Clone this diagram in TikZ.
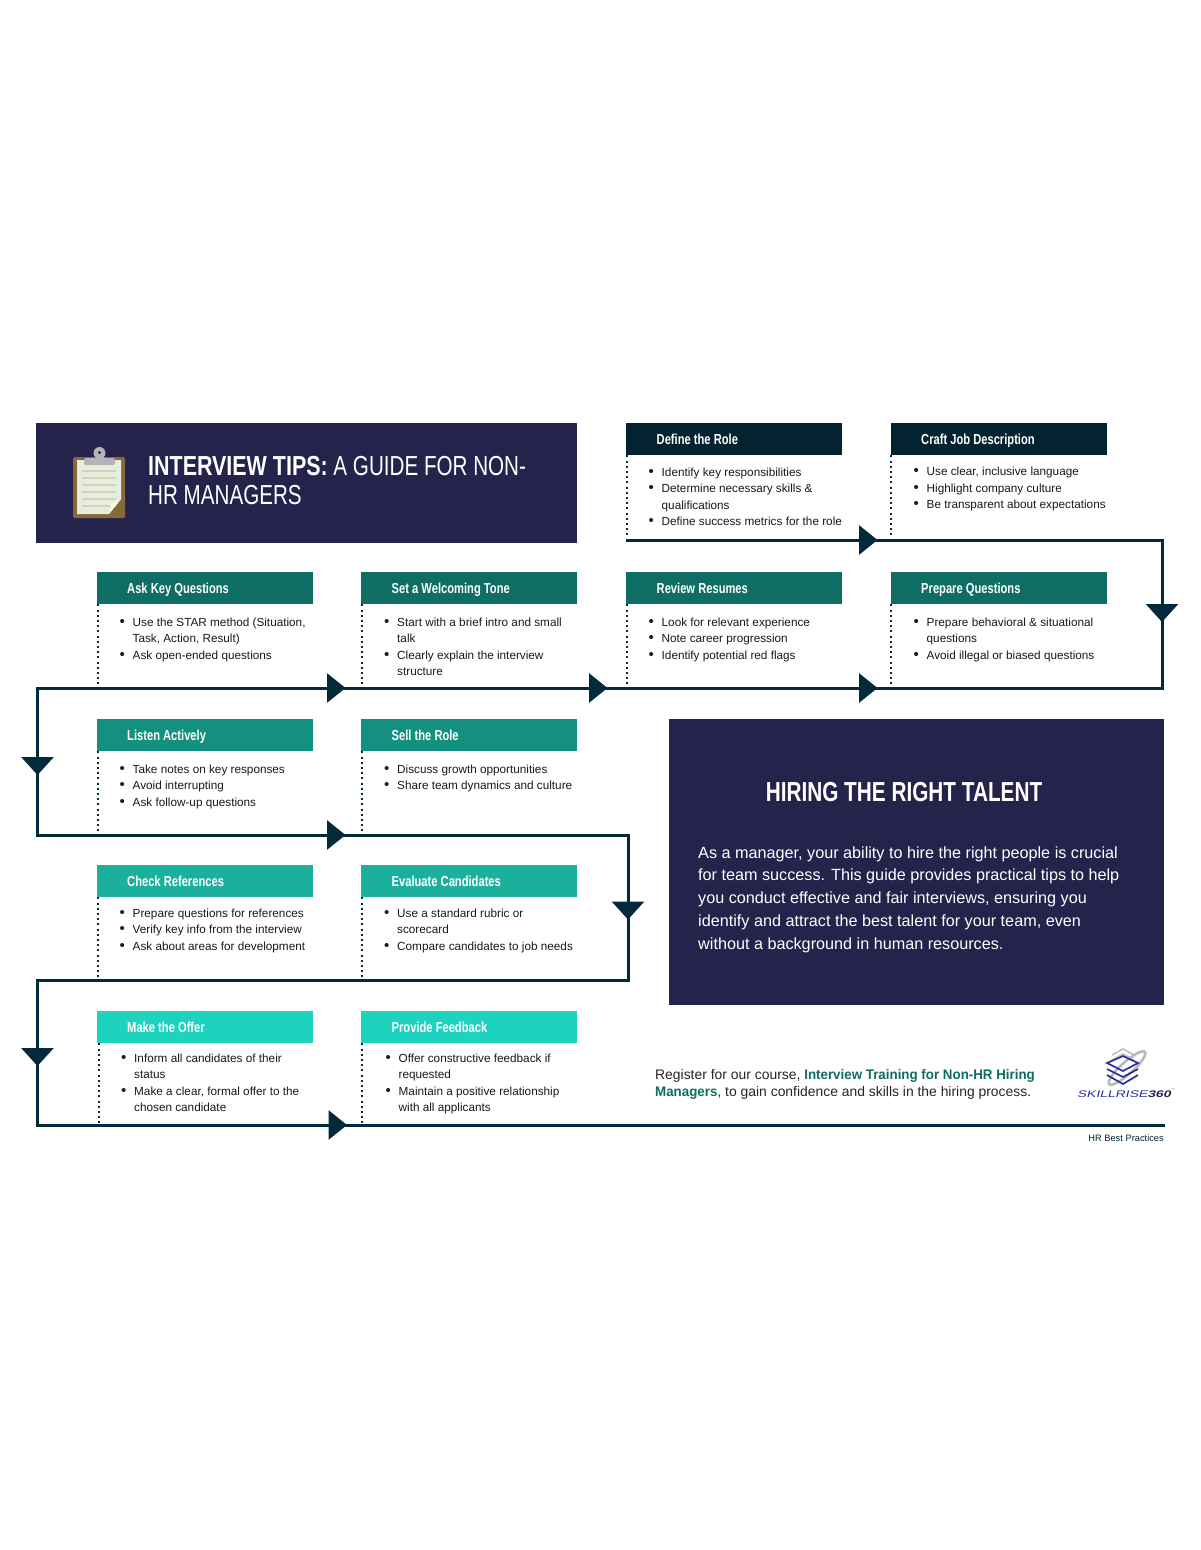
\documentclass[tikz,border=0pt]{standalone}
\usepackage{fontspec}
\usetikzlibrary{arrows.meta,calc}
\setmainfont{Liberation Sans}
\newfontfamily\condf[FakeStretch=0.77]{Liberation Sans}
\newfontfamily\condt[FakeStretch=0.75,BoldFeatures={FakeStretch=0.78}]{Liberation Sans}
\newfontfamily\condh[FakeStretch=0.755]{Liberation Sans}
\newfontfamily\regb[FakeStretch=0.96]{Liberation Sans}
\newfontfamily\logof[FakeStretch=1.45,FakeSlant=0.25]{Liberation Sans}
\definecolor{navy}{HTML}{25224B}
\definecolor{ink}{HTML}{022A3A}
\definecolor{hA}{HTML}{02232F}
\definecolor{hB}{HTML}{0F6E64}
\definecolor{hC}{HTML}{149080}
\definecolor{hD}{HTML}{1BB09C}
\definecolor{hE}{HTML}{1DD3BD}
\definecolor{regteal}{HTML}{0F6E5E}
\definecolor{logob}{HTML}{2A2F9C}
\tikzset{
  x=1pt,y=-1pt,
  hbox/.style={minimum width=216pt,minimum height=32pt,inner sep=0pt,anchor=north west},
  htext/.style={font=\condf\bfseries\fontsize{14.5}{16}\selectfont,text=white,anchor=base west,inner sep=0pt},
  body/.style={font=\fontsize{11.75}{16.45}\selectfont,text=black!90,align=left,anchor=north west,inner sep=0pt},
  panel/.style={fill=navy,draw=none,inner sep=0pt,anchor=north west},
  flow/.style={draw=ink,line width=3pt,line cap=butt,line join=miter},
  flowarrow/.style={flow,-{Triangle[length=18.5pt,width=29pt,fill=ink]}},
  flowdown/.style={flow,-{Triangle[length=18pt,width=32pt,fill=ink]}},
  dots/.style={draw=ink,line width=2pt,dash pattern=on 2pt off 3.2pt},
}
\newcommand{\bl}[1]{\strut\makebox[13pt][l]{\fontsize{15}{16}\selectfont •}#1}
\newcommand{\cl}[1]{\strut\hspace*{13pt}#1}
% name, x, y, colour, title
\newcommand{\hdr}[5]{\node[hbox,fill=#4] (#1) at (#2,#3) {}; \node[htext] (#1t) at (#2+30.5,#3+21) {#5};}
\begin{document}
\begin{tikzpicture}
\useasboundingbox (0,0) rectangle (1200,1550);
\fill[white] (0,0) rectangle (1200,1550);

% panels
\node[panel,minimum width=541pt,minimum height=120pt] (titlebox) at (36,423) {};
\node[panel,minimum width=495pt,minimum height=286pt] (hirebox) at (669,719) {};

% clipboard
\fill[rounded corners=1.5pt,fill={rgb,255:red,133;green,105;blue,58}] (73,457) rectangle (125,518);
\fill[fill={rgb,255:red,232;green,236;blue,220}] (77,460) -- (121,460) -- (121,499) -- (109,514) -- (77,514) -- cycle;
\foreach \yy in {471,478,485,492,499,506} \draw[line width=1.1pt,draw={rgb,255:red,208;green,211;blue,190}] (82,\yy) -- (116,\yy);
\fill[fill={rgb,255:red,248;green,246;blue,228}] (121,499) .. controls (116,503) and (112,503) .. (110,503) .. controls (111,507) and (110,511) .. (109,514) -- cycle;
\fill[fill={rgb,255:red,180;green,180;blue,183}] (99.5,453) circle (6pt);
\fill[navy] (99.5,452.5) circle (1.7pt);
\fill[rounded corners=1.5pt,fill={rgb,255:red,180;green,180;blue,183}] (84,458) rectangle (115,465);

% title
\node[anchor=base west,inner sep=0pt,text=white,font=\condt\fontsize{27.5}{29}\selectfont] (t1) at (148,475) {\textbf{INTERVIEW TIPS:} A GUIDE FOR NON-};
\node[anchor=base west,inner sep=0pt,text=white,font=\condt\fontsize{27.5}{29}\selectfont] (t2) at (148,504) {HR MANAGERS};

% hiring panel
\node[anchor=center,inner sep=0pt,text=white,font=\condh\bfseries\fontsize{27.5}{29}\selectfont] (hh) at (904,792) {HIRING THE RIGHT TALENT};
\node[anchor=north west,inner sep=0pt,text=white,align=left,font=\fontsize{16.2}{22.8}\selectfont] (hp) at (698,842) {\strut As a manager, your ability to hire the right people is crucial\\for team success. This guide provides practical tips to help\\you conduct effective and fair interviews, ensuring you\\identify and attract the best talent for your team, even\\without a background in human resources.};

% headers
\hdr{a}{626}{423}{hA}{Define the Role}
\hdr{b}{890.5}{423}{hA}{Craft Job Description}
\hdr{c}{96.5}{572}{hB}{Ask Key Questions}
\hdr{d}{361}{572}{hB}{Set a Welcoming Tone}
\hdr{e}{626}{572}{hB}{Review Resumes}
\hdr{f}{890.5}{572}{hB}{Prepare Questions}
\hdr{g}{96.5}{719}{hC}{Listen Actively}
\hdr{h}{361}{719}{hC}{Sell the Role}
\hdr{i}{96.5}{865}{hD}{Check References}
\hdr{j}{361}{865}{hD}{Evaluate Candidates}
\hdr{k}{96.5}{1011}{hE}{Make the Offer}
\hdr{l}{361}{1011}{hE}{Provide Feedback}

% bodies
\node[body] (ab) at (648.5,464.5) {\bl{Identify key responsibilities}\\\bl{Determine necessary skills \&}\\\cl{qualifications}\\\bl{Define success metrics for the role}};
\node[body] (bb) at (913.5,464) {\bl{Use clear, inclusive language}\\\bl{Highlight company culture}\\\bl{Be transparent about expectations}};
\node[body] (cb) at (119.5,614.5) {\bl{Use the STAR method (Situation,}\\\cl{Task, Action, Result)}\\\bl{Ask open-ended questions}};
\node[body] (db) at (384,614.5) {\bl{Start with a brief intro and small}\\\cl{talk}\\\bl{Clearly explain the interview}\\\cl{structure}};
\node[body] (eb) at (648.5,614.5) {\bl{Look for relevant experience}\\\bl{Note career progression}\\\bl{Identify potential red flags}};
\node[body] (fb) at (913.5,614.5) {\bl{Prepare behavioral \& situational}\\\cl{questions}\\\bl{Avoid illegal or biased questions}};
\node[body] (gb) at (119.5,761.5) {\bl{Take notes on key responses}\\\bl{Avoid interrupting}\\\bl{Ask follow-up questions}};
\node[body] (hb) at (384,761.5) {\bl{Discuss growth opportunities}\\\bl{Share team dynamics and culture}};
\node[body] (ib) at (119.5,905.5) {\bl{Prepare questions for references}\\\bl{Verify key info from the interview}\\\bl{Ask about areas for development}};
\node[body] (jb) at (384,905.5) {\bl{Use a standard rubric or}\\\cl{scorecard}\\\bl{Compare candidates to job needs}};
\node[body] (kb) at (121,1050.5) {\bl{Inform all candidates of their}\\\cl{status}\\\bl{Make a clear, formal offer to the}\\\cl{chosen candidate}};
\node[body] (lb) at (385.5,1050.5) {\bl{Offer constructive feedback if}\\\cl{requested}\\\bl{Maintain a positive relationship}\\\cl{with all applicants}};

% dotted rails
\foreach \n/\xx/\yy in {a/627/537,b/891/536,c/97.5/686,d/362/686,e/627/686,f/891/686,g/97.5/832,h/362/832,i/97.5/977,j/362/977,k/99/1123,l/362/1123}{
  \coordinate (tmp) at (\xx,\yy);
  \draw[dots] (tmp|-\n.south) -- (tmp);
}

% flow coordinates
\coordinate (p0) at (626,540);
\coordinate (a1) at (877.5,540);
\coordinate (c1) at (1162,540);
\coordinate (a2) at (1162,622);
\coordinate (c2) at (1162,688);
\coordinate (c3) at (36,688);
\coordinate (a3) at (345.5,688);
\coordinate (a4) at (607.5,688);
\coordinate (a5) at (877.5,688);
\coordinate (c3b) at (37.5,688);
\coordinate (a6) at (37.5,775);
\coordinate (c4) at (37.5,835);
\coordinate (a7) at (345.5,835);
\coordinate (c5) at (628,835);
\coordinate (a8) at (628,919.5);
\coordinate (c6) at (628,980);
\coordinate (c7) at (37.5,980);
\coordinate (a9) at (37.5,1066);
\coordinate (c8) at (37.5,1125);
\coordinate (a10) at (347,1125);
\coordinate (c9) at (1165,1125);

% flow
\draw[flow] (p0) -- (c1) -- (c2) -- (c3);
\draw[flow] (c3b) -- (c4) -- (c5) -- (c6) -- (c7) -- (c8) -- (c9);
\foreach \f/\t in {p0/a1,c3/a3,c3/a4,c3/a5,c4/a7,c8/a10}
  \draw[flowarrow] (\f) -- (\t);
\foreach \f/\t in {c1/a2,c3b/a6,c5/a8,c7/a9}
  \draw[flowdown] (\f) -- (\t);

% registration text
\node[anchor=north west,inner sep=0pt,align=left,text=black!85,font=\fontsize{13.9}{17}\selectfont] (reg) at (655,1069) {Register for our course, \textcolor{regteal}{\regb\textbf{Interview Training for Non-HR Hiring}}\\\textcolor{regteal}{\regb\textbf{Managers}}, to gain confidence and skills in the hiring process.};

% logo
\begin{scope}
\draw[line width=2.6pt,draw=black!28,rotate around={42:(1127,1068)}] (1127,1068) ellipse (24pt and 6pt);
\draw[line width=1.6pt,draw=black!25] (1112,1055) -- (1123,1049) -- (1134,1055);
\draw[line width=1.6pt,draw=black!25] (1112,1060) -- (1123,1054) -- (1134,1060);
\draw[line width=1.7pt,draw=logob] (1107,1063) -- (1123,1056) -- (1138,1063) -- (1123,1071) -- cycle;
\draw[line width=1.7pt,draw=logob] (1107,1069) -- (1123,1077) -- (1138,1069);
\draw[line width=1.7pt,draw=logob] (1107,1075) -- (1123,1084) -- (1138,1075);
\end{scope}
\node[anchor=base west,inner sep=0pt,font=\logof\fontsize{9.6}{10}\selectfont,text=logob] (logo) at (1077,1097) {SKILLRISE\textbf{\textcolor{navy}{360}}};
\node[anchor=base west,inner sep=0pt,font=\fontsize{3.5}{4}\selectfont,text=black!50] (logor) at (1172,1090) {®};

\node[anchor=base east,inner sep=0pt,text=ink,font=\fontsize{9.3}{11}\selectfont] (src) at (1164,1141) {HR Best Practices};
\end{tikzpicture}
\end{document}
